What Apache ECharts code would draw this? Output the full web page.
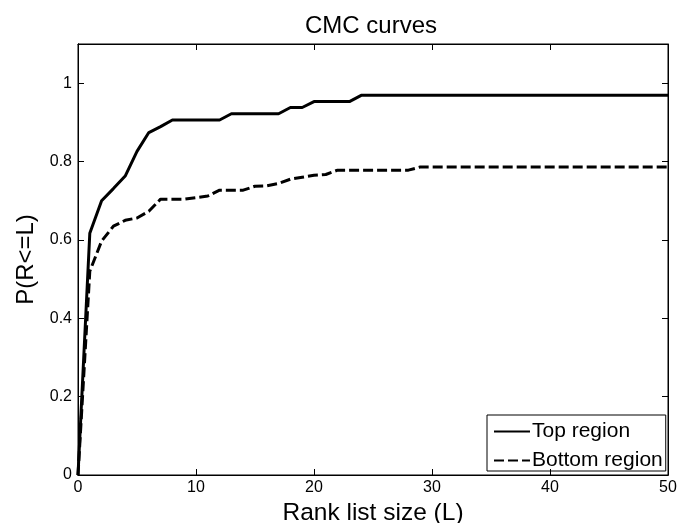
<!DOCTYPE html>
<html>
<head>
<meta charset="utf-8">
<title>CMC curves</title>
<script src="https://cdn.jsdelivr.net/npm/echarts@6/dist/echarts.min.js"></script>
<style>
  html, body { margin: 0; padding: 0; background: #fff; }
  #cmcChart { width: 692px; height: 523px; }
</style>
</head>
<body>
<div id="cmcChart"></div>
<script>
// rank list size L
var ranks = [0, 1, 2, 3, 4, 5, 6, 7, 8, 9, 10, 11, 12, 13, 14, 15, 16, 17, 18, 19, 20,
  21, 22, 23, 24, 25, 26, 27, 28, 29, 30, 31, 32, 33, 34, 35, 36, 37, 38, 39, 40,
  41, 42, 43, 44, 45, 46, 47, 48, 49, 50]

// P(R<=L), top region
var topRegion = [0, 0.617, 0.700, 0.731, 0.763, 0.826, 0.874, 0.889, 0.906, 0.906, 0.906,
  0.906, 0.906, 0.922, 0.922, 0.922, 0.922, 0.922, 0.938, 0.938, 0.953,
  0.953, 0.953, 0.953, 0.969, 0.969, 0.969, 0.969, 0.969, 0.969, 0.969,
  0.969, 0.969, 0.969, 0.969, 0.969, 0.969, 0.969, 0.969, 0.969, 0.969,
  0.969, 0.969, 0.969, 0.969, 0.969, 0.969, 0.969, 0.969, 0.969, 0.969]

// P(R<=L), bottom region
var bottomRegion = [0, 0.520, 0.597, 0.635, 0.650, 0.656, 0.673, 0.704, 0.704, 0.704, 0.708,
  0.712, 0.727, 0.727, 0.727, 0.737, 0.738, 0.744, 0.755, 0.760, 0.765,
  0.767, 0.778, 0.778, 0.778, 0.778, 0.778, 0.778, 0.778, 0.786, 0.786,
  0.786, 0.786, 0.786, 0.786, 0.786, 0.786, 0.786, 0.786, 0.786, 0.786,
  0.786, 0.786, 0.786, 0.786, 0.786, 0.786, 0.786, 0.786, 0.786, 0.786]

var seriesNames = ['Top region', 'Bottom region']

var font = 'Liberation Sans, Arial, Helvetica, sans-serif'

function pairs(xs, ys) {
  return xs.map(function (x, i) { return [x, ys[i]] })
}

// plain axis pieces; ticks live on separate label-less axes so they point inward
function frameAxis(extra, ticks) {
  var base = {
    type: 'value',
    z: 5,
    axisLine: { show: true, onZero: false, lineStyle: { color: '#000', width: 1 } },
    axisTick: { show: ticks, inside: true, length: 6, lineStyle: { color: '#000', width: 1 } },
    axisLabel: { show: false },
    splitLine: { show: false }
  }
  return Object.assign(base, extra)
}

var xRange = { min: 0, max: 50, interval: 10 }
var yRange = { min: 0, max: 1.1, interval: 0.2 }

var option = {
  backgroundColor: '#fff',
  animation: false,
  title: {
    text: 'CMC curves',
    left: 366,
    top: 9,
    textAlign: 'center',
    textStyle: { fontFamily: font, fontSize: 24, fontWeight: 'normal', color: '#000' }
  },
  grid: {
    left: 78,
    right: 24,
    top: 44,
    bottom: 48,
    outerBoundsMode: 'none',
    containLabel: false,
    show: true,
    borderColor: '#000',
    borderWidth: 1,
    backgroundColor: 'transparent'
  },
  legend: {
    orient: 'vertical',
    left: 487,
    top: 415,
    padding: [6, 3, 0, 6],
    itemWidth: 36,
    itemHeight: 20,
    itemGap: 8,
    backgroundColor: '#fff',
    borderColor: '#000',
    borderWidth: 1,
    borderRadius: 0,
    data: seriesNames,
    itemStyle: { color: 'rgba(0,0,0,0)', borderWidth: 0 },
    textStyle: { fontFamily: font, fontSize: 21, color: '#000', padding: [0, 0, 0, -3] }
  },
  xAxis: [
    frameAxis(Object.assign({
      position: 'bottom',
      name: 'Rank list size (L)',
      nameLocation: 'middle',
      nameGap: 23,
      nameTextStyle: { fontFamily: font, fontSize: 24.5, color: '#000', verticalAlign: 'top' },
      axisLabel: { show: true, margin: 5, fontFamily: font, fontSize: 16, color: '#000' }
    }, xRange), false),
    frameAxis(Object.assign({ position: 'bottom' }, xRange), true),
    frameAxis(Object.assign({ position: 'top' }, xRange), true)
  ],
  yAxis: [
    frameAxis(Object.assign({
      position: 'left',
      name: 'P(R<=L)',
      nameLocation: 'middle',
      nameRotate: 90,
      nameGap: 36,
      nameTextStyle: { fontFamily: font, fontSize: 24, color: '#000' },
      axisLabel: { show: true, margin: 6, fontFamily: font, fontSize: 16, color: '#000', showMaxLabel: false }
    }, yRange), false),
    frameAxis(Object.assign({ position: 'left' }, yRange), true),
    frameAxis(Object.assign({ position: 'right' }, yRange), true)
  ],
  series: [
    {
      name: seriesNames[0],
      type: 'line',
      data: pairs(ranks, topRegion),
      symbol: 'none',
      color: '#000',
      lineStyle: { color: '#000', width: 3, type: 'solid' }
    },
    {
      name: seriesNames[1],
      type: 'line',
      data: pairs(ranks, bottomRegion),
      symbol: 'none',
      color: '#000',
      lineStyle: { color: '#000', width: 3, type: [10, 4] }
    }
  ]
}

var myChart = echarts.init(document.querySelector('#cmcChart'))
myChart.setOption(option)
</script>
</body>
</html>
